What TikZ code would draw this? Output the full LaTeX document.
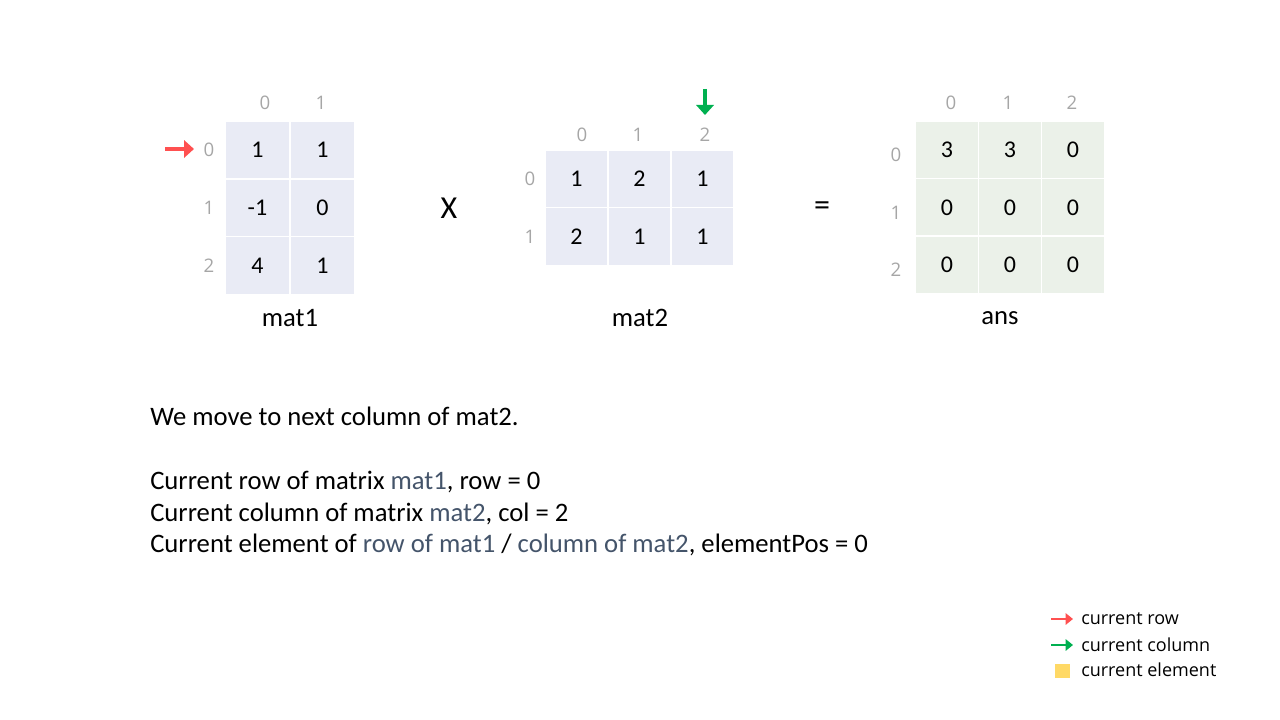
\documentclass[tikz,border=0pt]{standalone}
\usepackage{fontspec}
\setmainfont{Carlito}
\newfontfamily\uifont{Open Sans}
\usetikzlibrary{arrows.meta}
\definecolor{cellA}{HTML}{E9EBF5}
\definecolor{cellB}{HTML}{EBF1E9}
\definecolor{idxgray}{HTML}{A6A6A6}
\definecolor{hl}{HTML}{44546A}
\definecolor{redarr}{HTML}{FF5050}
\definecolor{greenarr}{HTML}{00B050}
\definecolor{yel}{HTML}{FFD966}
\tikzset{
  cellm1/.style={draw=white,line width=1pt,fill=cellA,minimum width=48.75pt,minimum height=43.3pt,inner sep=0pt,font=\fontsize{18}{22}\selectfont},
  cellm2/.style={draw=white,line width=1pt,fill=cellA,minimum width=47.25pt,minimum height=43.1pt,inner sep=0pt,font=\fontsize{18}{22}\selectfont},
  cellan/.style={draw=white,line width=1pt,fill=cellB,minimum width=47pt,minimum height=43.3pt,inner sep=0pt,font=\fontsize{18}{22}\selectfont},
  idx/.style={text=idxgray,inner sep=0pt,font=\uifont\fontsize{14}{17}\selectfont},
  lbl/.style={inner sep=0pt,font=\fontsize{20}{24}\selectfont},
  op/.style={inner sep=0pt,font=\fontsize{24}{28}\selectfont},
  body/.style={inner sep=0pt,anchor=base west,font=\fontsize{20}{24}\selectfont},
  leg/.style={inner sep=0pt,anchor=west,font=\uifont\fontsize{13.5}{16}\selectfont},
  arr/.style={line width=2.6pt,-{Triangle[length=7.5pt,width=13pt]}},
  legarr/.style={line width=1.8pt,-{Triangle[length=5.5pt,width=8.5pt]}},
}
\begin{document}
\begin{tikzpicture}[x=0.75pt,y=-0.75pt]
\useasboundingbox (0,0) rectangle (1280,720);
% mat1
\foreach \r/\y in {0/150,1/208,2/265.5}{
  \node[idx] (m1r\r) at (209,\y) {\r};
}
\node[idx] (m1c0) at (265,103) {0};
\node[idx] (m1c1) at (321,103) {1};
\node[cellm1] (a00) at (257.5,150) {1};
\node[cellm1] (a01) at (322.5,150) {1};
\node[cellm1] (a10) at (257.5,208) {-1};
\node[cellm1] (a11) at (322.5,208) {0};
\node[cellm1] (a20) at (257.5,265.5) {4};
\node[cellm1] (a21) at (322.5,265.5) {1};
\node[lbl] (l1) at (290,318) {mat1};
% mat2
\node[idx] (m2c0) at (582,135) {0};
\node[idx] (m2c1) at (638,135) {1};
\node[idx] (m2c2) at (705,135) {2};
\node[idx] (m2r0) at (530,179) {0};
\node[idx] (m2r1) at (530,237) {1};
\node[cellm2] (b00) at (576.5,179) {1};
\node[cellm2] (b01) at (639.5,179) {2};
\node[cellm2] (b02) at (702.5,179) {1};
\node[cellm2] (b10) at (576.5,236.5) {2};
\node[cellm2] (b11) at (639.5,236.5) {1};
\node[cellm2] (b12) at (702.5,236.5) {1};
\node[lbl] (l2) at (640,318) {mat2};
% ans
\node[idx] (ac0) at (951,103) {0};
\node[idx] (ac1) at (1008,103) {1};
\node[idx] (ac2) at (1072,103) {2};
\node[idx] (ar0) at (896,155) {0};
\node[idx] (ar1) at (896,213) {1};
\node[idx] (ar2) at (896,270) {2};
\node[cellan] (c00) at (947,150) {3};
\node[cellan] (c01) at (1010,150) {3};
\node[cellan] (c02) at (1073,150) {0};
\node[cellan] (c10) at (947,207.5) {0};
\node[cellan] (c11) at (1010,207.5) {0};
\node[cellan] (c12) at (1073,207.5) {0};
\node[cellan] (c20) at (947,265) {0};
\node[cellan] (c21) at (1010,265) {0};
\node[cellan] (c22) at (1073,265) {0};
\node[lbl] (l3) at (1000,318) {ans};
% operators
\node[op] (times) at (449,208) {X};
\node[op] (eq) at (822,208.5) {=};
% arrows
\coordinate (ra0) at (165,149);
\coordinate (ra1) at (194,149);
\draw[arr,redarr] (ra0) -- (ra1);
\coordinate (ga0) at (705,89);
\coordinate (ga1) at (705,115);
\draw[arr,greenarr] (ga0) -- (ga1);
% body text
\node[body] (t1) at (150,425) {We move to next column of mat2.};
\node[body] (t2) at (150,489) {Current row of matrix \textcolor{hl}{mat1}, row = 0};
\node[body] (t3) at (150,521) {Current column of matrix \textcolor{hl}{mat2}, col = 2};
\node[body] (t4) at (150,552) {Current element of \textcolor{hl}{row of mat1} / \textcolor{hl}{column of mat2}, elementPos = 0};
% legend
\coordinate (lr0) at (1051,619);
\coordinate (lr1) at (1073,619);
\draw[legarr,redarr] (lr0) -- (lr1);
\coordinate (lg0) at (1051,645);
\coordinate (lg1) at (1073,645);
\draw[legarr,greenarr] (lg0) -- (lg1);
\node[fill=yel,minimum size=11pt,inner sep=0pt] (ly) at (1062.5,671) {};
\node[leg] (lt1) at (1081,619) {current row};
\node[leg] (lt2) at (1081,645) {current column};
\node[leg] (lt3) at (1081,670) {current element};
\end{tikzpicture}
\end{document}
